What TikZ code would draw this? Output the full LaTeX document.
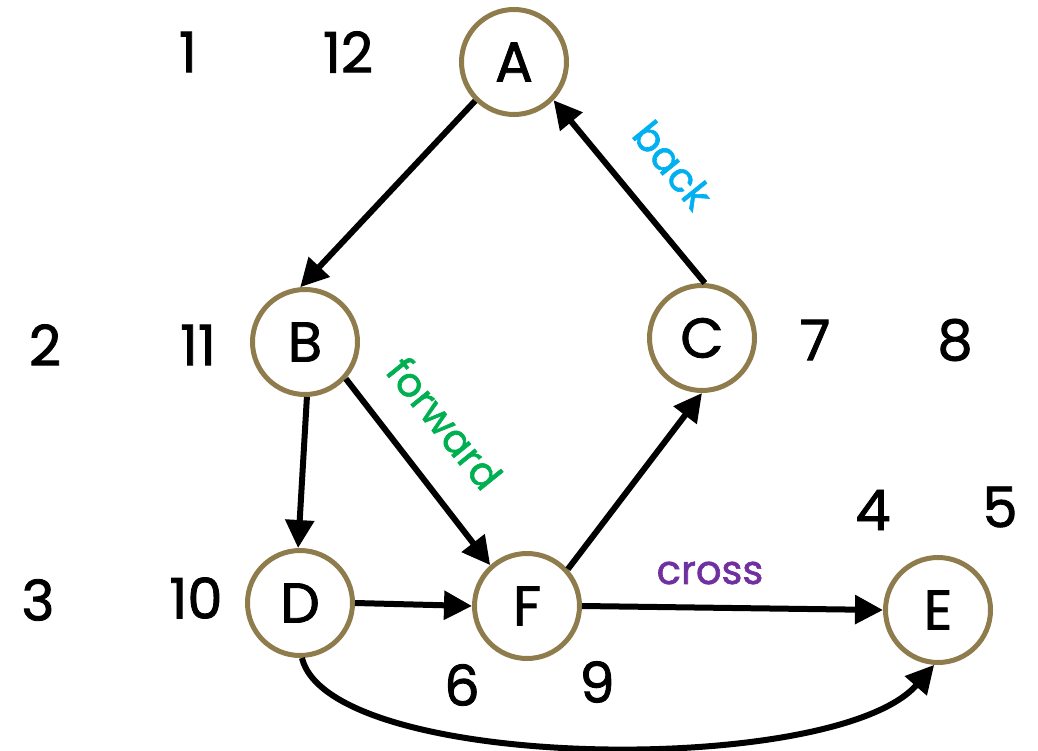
\documentclass[tikz,border=0pt]{standalone}
\usepackage{fontspec}
\setmainfont{Poppins}[FakeBold=1.5]
\usetikzlibrary{arrows.meta}
\definecolor{ringc}{RGB}{143,124,77}
\definecolor{backc}{RGB}{0,176,240}
\definecolor{fwdc}{RGB}{0,176,80}
\definecolor{crossc}{RGB}{112,48,160}
\tikzset{
  vtx/.style={circle,draw=ringc,line width=5pt,minimum size=105pt,inner sep=0pt,font=\fontsize{56}{60}\selectfont},
  num/.style={font=\fontsize{56}{60}\selectfont,inner sep=0pt},
  edgelbl/.style={font=\fontsize{40}{44}\selectfont,inner sep=0pt},
  arr/.style={line width=6pt,-{Triangle[length=28pt,width=28pt]}}
}
\begin{document}
\begin{tikzpicture}[x=1pt,y=-1pt]
\useasboundingbox (0,0) rectangle (1038,751);
\node[vtx] (A) at (514,62) {A};
\node[vtx] (B) at (305,342) {B};
\node[vtx] (C) at (702,338) {C};
\node[vtx] (D) at (300,603) {D};
\node[vtx] (F) at (527,606) {F};
\node[vtx] (E) at (938,610) {E};
\node[num] (n1) at (188,52) {1};
\node[num] (n12) at (348,52) {12};
\node[num] (n2) at (45,345) {2};
\node[num] (n11) at (198,345) {11};
\node[num] (n3) at (38,600) {3};
\node[num] (n10) at (196,598) {10};
\node[num] (n7) at (815,340) {7};
\node[num] (n8) at (955,340) {8};
\node[num] (n4) at (873,510) {4};
\node[num] (n5) at (1000,507) {5};
\node[num] (n6) at (462,685) {6};
\node[num] (n9) at (597,682) {9};
\draw[arr] (A.225) -- (B.95);
\draw[arr] (C.87) -- (A.-44);
\draw[arr] (B.-88) -- (D.92);
\draw[arr] (B.-42) -- (F.132);
\draw[arr] (F.42) -- (C.-90);
\draw[arr] (D.0) -- (F.180);
\draw[arr] (F.0) -- (E.180);
\draw[arr] (D.-88) .. controls (330,772) and (835,778) .. (E.-94);
\node[edgelbl,text=backc,rotate=-51] (lb) at (673,165) {back};
\node[edgelbl,text=fwdc,rotate=-51] (lf) at (445,423) {forward};
\node[edgelbl,text=crossc] (lc) at (710,573) {cross};
\end{tikzpicture}
\end{document}
